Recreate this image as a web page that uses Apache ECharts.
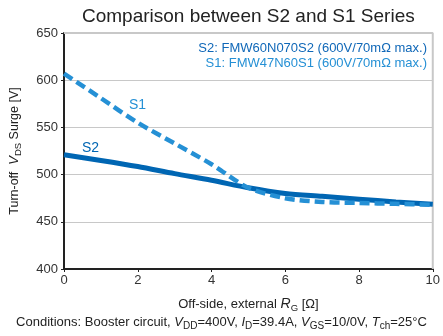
<!DOCTYPE html>
<html><head><meta charset="utf-8">
<script src="https://cdn.jsdelivr.net/npm/echarts@6/dist/echarts.min.js"></script>
<style>html,body{margin:0;padding:0;background:#fff}#c{width:443px;height:336px}</style>
</head><body><div id="c"></div>
<script>
const xS2 = [0, 1, 2, 3, 4, 5, 6, 7, 8, 9, 10];
const yS2 = [521, 515, 508.5, 501, 494, 486, 480, 477, 474, 471, 468.5];
const xS1 = [0, 1, 2, 3, 4, 5, 6, 7, 8, 9, 10];
const yS1 = [607, 581, 555, 533, 511, 486, 475, 471, 470, 469, 468];
const xTicks = [0, 2, 4, 6, 8, 10];
const yTicks = [400, 450, 500, 550, 600, 650];
const FONT = 'Liberation Sans, Arial, sans-serif';
const chart = echarts.init(document.getElementById('c'));
const sub = {fontSize: 9.5, fontFamily: FONT, color: '#222', padding: [7, 0, 0, 0]};
chart.setOption({
  animation: false,
  title: {text: 'Comparison between S2 and S1 Series', left: 77, top: 2,
    textStyle: {fontFamily: FONT, fontSize: 19, fontWeight: 'normal', color: '#222'}},
  grid: {left: 64, right: 7, top: 33, bottom: 67},
  xAxis: {type: 'value', min: 0, max: 10, interval: 2,
    name: '{n|Off-side, external }{i|R}{s|G}{n| [Ω]}', nameLocation: 'middle', nameGap: 27,
    nameTextStyle: {rich: {n: {fontFamily: FONT, fontSize: 13, color: '#222'}, i: {fontFamily: FONT, fontSize: 14, fontStyle: 'italic', color: '#222'}, s: sub}},
    axisLine: {lineStyle: {color: '#222', width: 2}},
    axisTick: {show: true, length: 3, lineStyle: {color: '#222'}},
    axisLabel: {fontFamily: FONT, fontSize: 13, color: '#333', margin: 5, formatter: v => xTicks.includes(v) ? String(v) : ''},
    splitLine: {show: false}},
  yAxis: {type: 'value', min: 400, max: 650, interval: 50,
    name: '{n|Turn-off  }{i|V}{s|DS}{n| Surge [V]}', nameLocation: 'middle', nameGap: 41, nameRotate: 90,
    nameTextStyle: {rich: {n: {fontFamily: FONT, fontSize: 12.5, color: '#222'}, i: {fontFamily: FONT, fontSize: 13, fontStyle: 'italic', color: '#222'}, s: sub}},
    axisLine: {show: true, lineStyle: {color: '#222', width: 2}},
    axisTick: {show: true, length: 3, lineStyle: {color: '#222'}},
    axisLabel: {fontFamily: FONT, fontSize: 13, color: '#333', margin: 6, formatter: v => yTicks.includes(v) ? String(v) : ''},
    splitLine: {lineStyle: {color: '#c8c8c8', width: 1}}},
  series: [
    {type: 'line', data: xS1.map((x, i) => [x, yS1[i]]), smooth: 0.3, symbol: 'none',
      lineStyle: {color: '#2590d5', width: 4.5, type: [10, 5]}, z: 3},
    {type: 'line', data: xS2.map((x, i) => [x, yS2[i]]), smooth: 0.3, symbol: 'none',
      lineStyle: {color: '#0066b3', width: 5}, z: 2},
    {type: 'line', data: [[0, 650], [10, 650], [10, 400]], symbol: 'none', silent: true,
      lineStyle: {color: '#c8c8c8', width: 2}, z: 1}
  ],
  graphic: [
    {type: 'text', right: 16, top: 42, style: {text: 'S2: FMW60N070S2 (600V/70mΩ max.)', fill: '#1068b8', font: '13px ' + FONT}},
    {type: 'text', right: 16, top: 57, style: {text: 'S1: FMW47N60S1 (600V/70mΩ max.)', fill: '#2590d5', font: '13px ' + FONT}},
    {type: 'text', left: 129, top: 98, style: {text: 'S1', fill: '#2590d5', font: '14px ' + FONT}},
    {type: 'text', left: 82, top: 141, style: {text: 'S2', fill: '#0066b3', font: '14px ' + FONT}},
    {type: 'text', left: 'center', top: 316, style: {
      text: '{n|Conditions: Booster circuit, }{i|V}{s|DD}{n|=400V, }{i|I}{s|D}{n|=39.4A, }{i|V}{s|GS}{n|=10/0V, }{i|T}{s|ch}{n|=25°C}',
      rich: {n: {fontFamily: FONT, fontSize: 13, fill: '#222'}, i: {fontFamily: FONT, fontSize: 13, fontStyle: 'italic', fill: '#222'}, s: {fontFamily: FONT, fontSize: 10, fill: '#222', padding: [7, 0, 0, 0]}}}}
  ]
});
</script></body></html>
